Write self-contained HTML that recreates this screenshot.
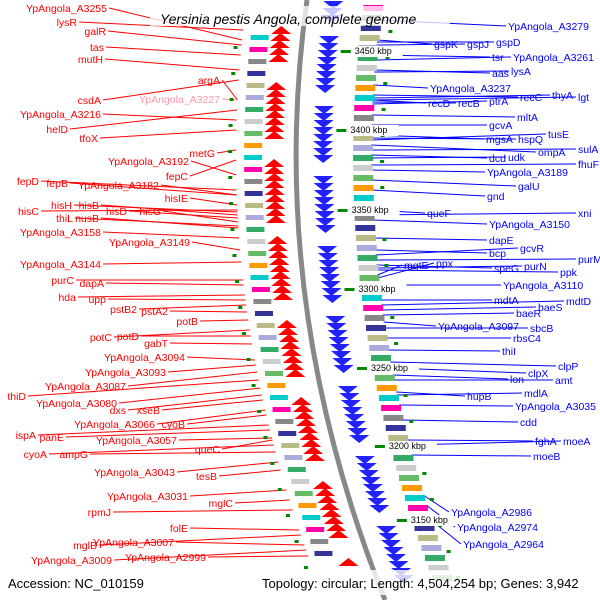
<!DOCTYPE html>
<html><head><meta charset="utf-8">
<style>
html,body{margin:0;padding:0;background:#fff;}
svg{display:block;font-family:"Liberation Sans",sans-serif;}
</style></head>
<body>
<svg id="map" width="600" height="600" viewBox="0 0 600 600" xmlns="http://www.w3.org/2000/svg">
<rect width="600" height="600" fill="#fff"/>
<g id="lines"></g>
<g id="marks"></g>
<path id="backbone" d="M307,0 Q265,300 385,600" fill="none" stroke="#888" stroke-width="5"/>
<g id="labels"></g>
<rect x="150" y="6" width="300" height="20" fill="#fff" fill-opacity="0.75"/>
<text x="160" y="24" font-size="14" font-style="italic" fill="#000">Yersinia pestis Angola, complete genome</text>
<rect x="0" y="570" width="600" height="25" fill="#fff" fill-opacity="0.8"/>
<text x="8" y="588" font-size="13" fill="#000">Accession: NC_010159</text>
<text x="262" y="588" font-size="13" fill="#000">Topology: circular; Length: 4,504,254 bp; Genes: 3,942</text>
</svg>
<script>
const redNames=["YpAngola_A3255","lysR","galR","tas","mutH","argA","csdA","YpAngola_A3227","YpAngola_A3216","helD","tfoX","metG","YpAngola_A3192","fepC","fepD","fepB","YpAngola_A3182","hisIE","hisC","hisH","hisB","hisD","hisG","thiL","nusB","YpAngola_A3158","YpAngola_A3149","YpAngola_A3144","purC","dapA","hda","upp","pstB2","pstA2","potB","potC","potD","gabT","YpAngola_A3094","YpAngola_A3093","YpAngola_A3087","thiD","YpAngola_A3080","dxs","xseB","YpAngola_A3066","cyoB","ispA","panE","YpAngola_A3057","cyoA","ampG","queC","YpAngola_A3043","tesB","YpAngola_A3031","mglC","rpmJ","folE","mglB","YpAngola_A3007","YpAngola_A3009","YpAngola_A2999"];
const redEndX=[107,77,106,104,103,220,101,220,101,68,98,215,189,188,39,68,159,188,39,72,99,127,161,73,99,101,190,101,74,104,76,106,137,168,198,112,139,168,185,166,126,26,117,126,160,155,185,36,64,177,47,88,220,175,217,188,233,111,188,97,174,112,206];
const redY=[12,26,35,51,63,84,104,103,118,133,142,157,165,180,185,187,189,202,215,209,209,215,215,222,222,236,246,268,284,287,301,303,313,315,325,341,340,347,361,376,390,400,407,414,414,428,428,439,441,444,458,458,453,476,480,500,507,516,532,549,546,564,561];
const redTarget=[40,30,45,55,70,100,80,100,120,110,130,150,175,160,190,195,195,205,210,212,215,218,222,226,228,238,250,262,280,285,295,300,305,312,320,330,336,344,360,365,372,380,388,395,400,410,415,425,430,438,445,452,440,462,470,490,500,510,530,535,545,550,556];
const redColors=redNames.map((n,i)=>n==="YpAngola_A3227"?"#f9a":"#f00");
const blueNames=["YpAngola_A3279","gspK","gspJ","gspD","tsr","YpAngola_A3261","aas","lysA","YpAngola_A3237","recC","thyA","lgt","recD","recB","ptrA","mltA","gcvA","mgsA","hspQ","tusE","ompA","sulA","dcd","udk","fhuF","YpAngola_A3189","galU","gnd","queF","xni","YpAngola_A3150","dapE","bcp","gcvR","purM","speG","purN","ppk","mgtE","ppx","YpAngola_A3110","mdtA","mdtD","baeS","baeR","YpAngola_A3097","sbcB","rbsC4","thiI","clpP","clpX","lon","amt","hupB","mdlA","YpAngola_A3035","cdd","fghA","moeA","moeB","YpAngola_A2986","YpAngola_A2974","YpAngola_A2964"];
const blueStartX=[508,434,467,496,492,513,492,511,430,520,552,578,428,458,489,517,489,486,518,548,538,578,489,508,578,487,518,487,427,578,489,489,489,520,578,494,524,560,404,436,503,494,566,538,516,438,530,513,502,558,528,510,555,467,524,515,520,535,563,533,451,457,463];
const blueY=[30,48,48,46,61,61,77,75,92,101,99,101,107,107,105,121,129,143,143,138,156,153,162,161,168,176,190,200,217,217,228,244,257,252,263,272,270,276,269,267,289,304,305,311,317,330,332,342,355,370,377,383,384,400,397,410,426,445,445,460,516,531,548];
const blueTarget=[20,40,45,42,55,60,70,72,85,95,98,100,100,102,104,115,125,135,138,140,145,150,155,158,165,170,180,190,210,215,220,238,250,255,260,265,268,270,275,278,285,300,305,310,315,322,328,338,350,362,368,375,380,392,395,405,420,440,445,455,495,505,520];

function arcX(y){const t=y/600;return (1-t)*(1-t)*307+2*t*(1-t)*265+t*t*385;}
const NS="http://www.w3.org/2000/svg";
function mk(tag,attrs,parent){const e=document.createElementNS(NS,tag);for(const k in attrs)e.setAttribute(k,attrs[k]);parent.appendChild(e);return e;}
const L=document.getElementById('lines'),M=document.getElementById('marks'),T=document.getElementById('labels');

redNames.forEach((n,i)=>{
  const tx=arcX(redTarget[i])-60;
  const ln=mk('line',{x1:redEndX[i]+2,y1:redY[i]-4,x2:tx,y2:redTarget[i],stroke:redColors[i],'stroke-width':1},L);
  
  
  const t=mk('text',{x:redEndX[i],y:redY[i],'font-size':10.5,'text-anchor':'end',fill:redColors[i]},T);
  t.textContent=n;
  
  
});
blueNames.forEach((n,i)=>{
  const tx=arcX(blueTarget[i])+75;
  const ln=mk('line',{x1:tx,y1:blueTarget[i],x2:blueStartX[i]-2,y2:blueY[i]-4,stroke:'#00f','stroke-width':1},L);
  
  
  const t=mk('text',{x:blueStartX[i],y:blueY[i],'font-size':10.5,fill:'#00f'},T);
  t.textContent=n;
  
  
});

const redGeneY=[];for(let y=30;y<565;y+=7){if((y%80)<60)redGeneY.push(y);}
const blueGeneY=[];for(let y=5;y<590;y+=7){if(((y+30)%70)<52)blueGeneY.push(y);}
redGeneY.forEach(y=>{const x=arcX(y)-22;const p=mk('polygon',{points:`${x-10},${y+4} ${x},${y-4} ${x+10},${y+4}`,fill:'#f00'},M);
  });
blueGeneY.forEach(y=>{const x=arcX(y)+27;const p=mk('polygon',{points:`${x-10},${y-4} ${x},${y+4} ${x+10},${y-4}`,fill:'#22f'},M);
  });
const boxCols=["#6b6","#f90","#0cc","#f0a","#888","#339","#bb8","#aad","#3a6","#ccc"];
for(let y=35;y<560;y+=12){const k=Math.floor(y/12)%boxCols.length;
  const b=mk('rect',{x:arcX(y)-52,y:y,width:18,height:5,fill:boxCols[k]},M);
  }
for(let y=5;y<585;y+=10){const k=Math.floor(y/10+3)%boxCols.length;
  const b=mk('rect',{x:arcX(y)+57,y:y,width:20,height:6,fill:boxCols[k]},M);
  }
for(let y=20;y<580;y+=26){const a=mk('rect',{x:arcX(y)-68,y:y,width:4,height:3,fill:'#080'},M);
 const b=mk('rect',{x:arcX(y)+84,y:y+10,width:4,height:3,fill:'#080'},M);}
const kbpLabels=["3450 kbp","3400 kbp","3350 kbp","3300 kbp","3250 kbp","3200 kbp","3150 kbp"];
const kbpY=[54,133,213,292,371,449,523];
kbpLabels.forEach((s,i)=>{const y=kbpY[i];const x=arcX(y)+52;
  const tk=mk('rect',{x:x-12,y:y-4,width:10,height:3,fill:'#080'},M);
  const bg=mk('rect',{x:x,y:y-8,width:50,height:11,fill:'#fff'},M);
  const t=mk('text',{x:x+2,y:y,'font-size':9,fill:'#000'},M);t.textContent=s;
  });
</script>
</body></html>
